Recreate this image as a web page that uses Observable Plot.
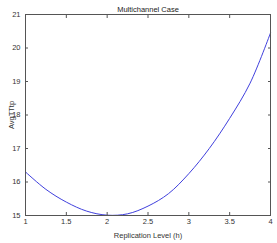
<!DOCTYPE html>
<html>
<head>
<meta charset="utf-8">
<script src="https://cdn.jsdelivr.net/npm/d3@7"></script>
<script src="https://cdn.jsdelivr.net/npm/@observablehq/plot@0.6"></script>
<style>
html, body { margin: 0; padding: 0; background: #fff; }
svg { font-family: "Liberation Sans", Arial, sans-serif; }
</style>
</head>
<body>
<div id="chart"></div>
<script>
const titleText = "Multichannel Case";
const xLabel = "Replication Level (h)";
const yLabel = "AvgTTtp";
const replicationLevel = [1, 1.25, 1.5, 1.75, 2, 2.25, 2.5, 2.75, 3, 3.25, 3.5, 3.75, 4];
const avgTTtp = [16.30, 15.78, 15.40, 15.13, 15.01, 15.05, 15.28, 15.65, 16.25, 17.00, 17.90, 18.95, 20.45];
const xTicks = [1, 1.5, 2, 2.5, 3, 3.5, 4];
const yTicks = [15, 16, 17, 18, 19, 20, 21];

const data = replicationLevel.map((h, i) => ({h, v: avgTTtp[i]}));

const fs = 7.5;
const plot = Plot.plot({
  width: 277,
  height: 243,
  marginLeft: 25,
  marginRight: 7,
  marginTop: 14,
  marginBottom: 28,
  style: {fontFamily: "'Liberation Sans', Arial, sans-serif", fontSize: fs + "px", color: "#333", background: "#fff"},
  x: {domain: [1, 4]},
  y: {domain: [15, 21]},
  marks: [
    Plot.line(data, {x: "h", y: "v", stroke: "#4040dd", strokeWidth: 1, curve: "catmull-rom"}),
    Plot.frame({stroke: "#555", strokeWidth: 1}),
    Plot.axisX({anchor: "bottom", ticks: xTicks, tickSize: -3, tickPadding: 6, stroke: "#555", fill: "#333", fontSize: fs, tickFormat: d3.format(""), label: xLabel, labelAnchor: "center", labelArrow: "none", labelOffset: 22}),
    Plot.axisX({anchor: "top", ticks: xTicks, tickSize: -3, tickFormat: () => "", stroke: "#555", label: null}),
    Plot.axisY({anchor: "left", ticks: yTicks, tickSize: -3, tickPadding: 8, stroke: "#555", fill: "#333", fontSize: fs, tickFormat: d3.format("d"), label: yLabel, labelAnchor: "center", labelArrow: "none", labelOffset: 17}),
    Plot.axisY({anchor: "right", ticks: yTicks, tickSize: -3, tickFormat: () => "", stroke: "#555", label: null}),
    Plot.text([titleText], {frameAnchor: "top", dy: -8, fontSize: fs, fill: "#222"})
  ]
});
document.getElementById("chart").appendChild(plot);
</script>
</body>
</html>
